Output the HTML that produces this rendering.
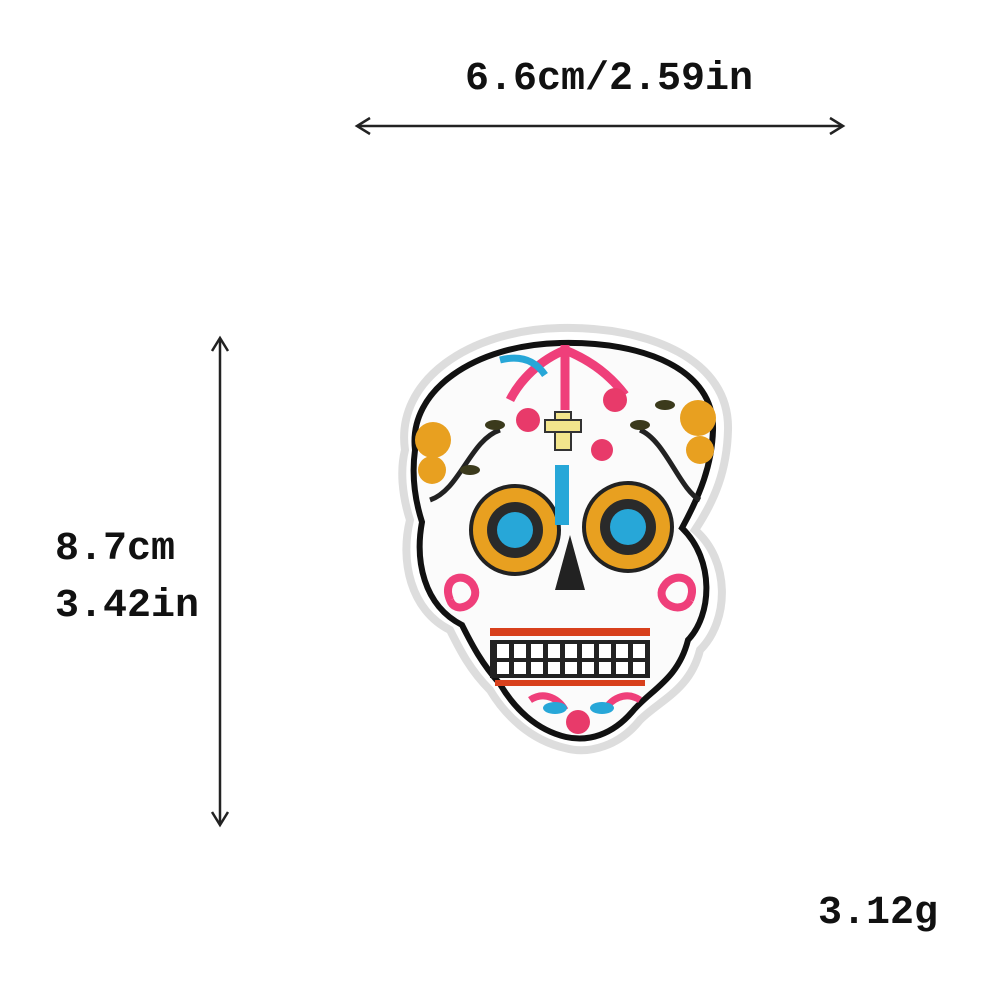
<!DOCTYPE html>
<html><head><meta charset="utf-8">
<style>
html,body{margin:0;padding:0;background:#fff;}
body{width:1000px;height:1000px;position:relative;overflow:hidden;font-family:"Liberation Mono",monospace;}
.t{position:absolute;font-size:40px;font-weight:bold;color:#111;white-space:nowrap;line-height:1;}
svg{position:absolute;left:0;top:0;}
</style></head><body>
<div class="t" style="left:465px;top:60px;">6.6cm/2.59in</div>
<div class="t" style="left:55px;top:530px;">8.7cm</div>
<div class="t" style="left:55px;top:587px;">3.42in</div>
<div class="t" style="left:818px;top:894px;">3.12g</div>
<svg width="1000" height="1000" viewBox="0 0 1000 1000">
 <g stroke="#222" stroke-width="2.5" fill="none">
  <line x1="357" y1="126" x2="843" y2="126"/>
  <polyline points="370,118 357,126 370,134"/>
  <polyline points="830,118 843,126 830,134"/>
 </g>
 <g stroke="#222" stroke-width="2.5" fill="none">
  <line x1="220" y1="338" x2="220" y2="825"/>
  <polyline points="212,351 220,338 228,351"/>
  <polyline points="212,812 220,825 228,812"/>
 </g>
 <g>
  <path d="M405,450 C395,380 470,330 560,328 C650,326 730,360 728,430 C727,470 715,500 695,530 C730,560 730,620 700,650 C690,690 660,700 640,720 C620,745 590,755 565,748 C530,740 505,715 490,690 C470,670 460,650 450,630 C410,610 400,560 410,520 C402,495 400,470 405,450 Z" fill="#fff" stroke="#ddd" stroke-width="8"/>
  <path d="M415,450 C408,390 475,345 560,343 C645,341 715,370 713,430 C712,465 700,495 682,528 C715,560 712,615 688,640 C678,680 650,690 632,712 C612,735 588,742 566,737 C536,730 514,708 500,684 C482,664 472,645 462,625 C423,605 415,560 422,522 C414,497 412,472 415,450 Z" fill="#fbfbfb" stroke="#111" stroke-width="6"/>
  <path d="M430,500 C460,490 470,440 500,430 M700,500 C680,490 665,440 640,430" stroke="#222" stroke-width="5" fill="none"/>
  <ellipse cx="495" cy="425" rx="10" ry="5" fill="#3b3a1c"/>
  <ellipse cx="640" cy="425" rx="10" ry="5" fill="#3b3a1c"/>
  <ellipse cx="470" cy="470" rx="10" ry="5" fill="#3b3a1c"/>
  <ellipse cx="665" cy="405" rx="10" ry="5" fill="#3b3a1c"/>
  <circle cx="515" cy="530" r="44" fill="#e8a020" stroke="#222" stroke-width="4"/>
  <circle cx="515" cy="530" r="28" fill="#2a2a2a"/>
  <circle cx="515" cy="530" r="18" fill="#27a7d8"/>
  <circle cx="628" cy="527" r="44" fill="#e8a020" stroke="#222" stroke-width="4"/>
  <circle cx="628" cy="527" r="28" fill="#2a2a2a"/>
  <circle cx="628" cy="527" r="18" fill="#27a7d8"/>
  <path d="M570,535 L555,590 L585,590 Z" fill="#222"/>
  <rect x="555" y="465" width="14" height="60" fill="#27a7d8"/>
  <rect x="555" y="412" width="16" height="38" fill="#f3e58c" stroke="#333" stroke-width="2"/>
  <rect x="545" y="420" width="36" height="12" fill="#f3e58c" stroke="#333" stroke-width="2"/>
  <path d="M565,350 C540,360 520,380 510,400 M565,350 C590,360 610,375 625,395 M565,345 L565,410" stroke="#ef3f7a" stroke-width="9" fill="none"/>
  <path d="M500,360 C520,355 535,360 545,375" stroke="#27a7d8" stroke-width="7" fill="none"/>
  <circle cx="528" cy="420" r="12" fill="#e83a6a"/>
  <circle cx="615" cy="400" r="12" fill="#e83a6a"/>
  <circle cx="602" cy="450" r="11" fill="#e83a6a"/>
  <circle cx="433" cy="440" r="18" fill="#e8a020"/>
  <circle cx="432" cy="470" r="14" fill="#e8a020"/>
  <circle cx="698" cy="418" r="18" fill="#e8a020"/>
  <circle cx="700" cy="450" r="14" fill="#e8a020"/>
  <path d="M450,600 C440,575 470,570 475,590 C478,605 455,615 450,600" stroke="#ef3f7a" stroke-width="8" fill="none"/>
  <path d="M690,600 C700,575 670,570 662,590 C658,605 682,615 690,600" stroke="#ef3f7a" stroke-width="8" fill="none"/>
  <rect x="490" y="628" width="160" height="8" fill="#d8401c"/>
  <rect x="490" y="640" width="160" height="38" fill="#222"/>
  <g fill="#fff">
   <rect x="497" y="644" width="12" height="14"/><rect x="514" y="644" width="12" height="14"/><rect x="531" y="644" width="12" height="14"/><rect x="548" y="644" width="12" height="14"/><rect x="565" y="644" width="12" height="14"/><rect x="582" y="644" width="12" height="14"/><rect x="599" y="644" width="12" height="14"/><rect x="616" y="644" width="12" height="14"/><rect x="633" y="644" width="12" height="14"/>
   <rect x="497" y="662" width="12" height="12"/><rect x="514" y="662" width="12" height="12"/><rect x="531" y="662" width="12" height="12"/><rect x="548" y="662" width="12" height="12"/><rect x="565" y="662" width="12" height="12"/><rect x="582" y="662" width="12" height="12"/><rect x="599" y="662" width="12" height="12"/><rect x="616" y="662" width="12" height="12"/><rect x="633" y="662" width="12" height="12"/>
  </g>
  <rect x="495" y="680" width="150" height="6" fill="#d8401c"/>
  <path d="M530,700 C545,690 560,700 565,710 M640,700 C625,690 610,700 605,710" stroke="#ef3f7a" stroke-width="7" fill="none"/>
  <circle cx="578" cy="722" r="12" fill="#e83a6a"/>
  <ellipse cx="555" cy="708" rx="12" ry="6" fill="#27a7d8"/>
  <ellipse cx="602" cy="708" rx="12" ry="6" fill="#27a7d8"/>
 </g>
</svg>
</body></html>
